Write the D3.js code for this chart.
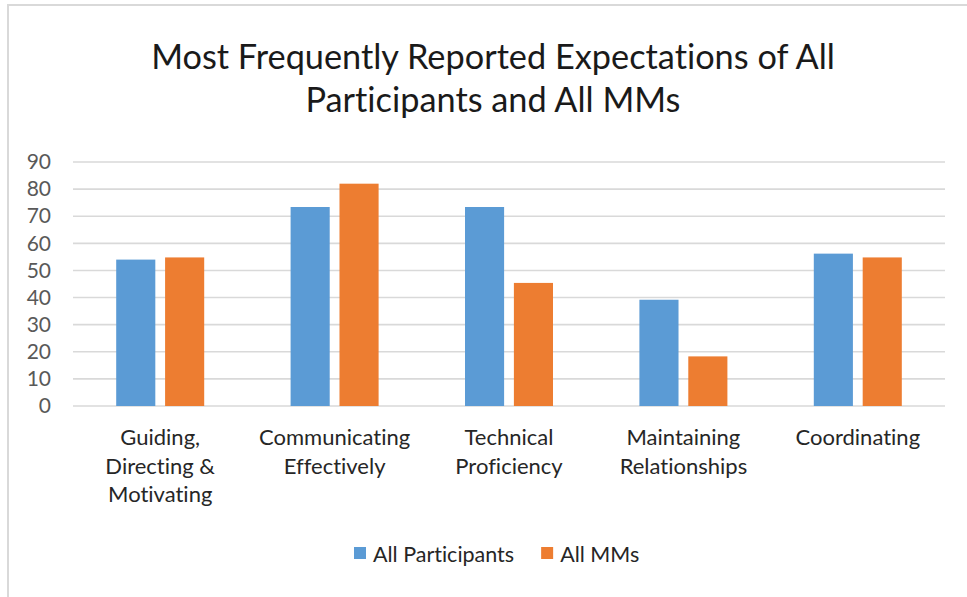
<!DOCTYPE html>
<html>
<head>
<meta charset="utf-8">
<script src="https://cdn.jsdelivr.net/npm/d3@7"></script>
<style>
  html, body { margin: 0; padding: 0; background: #fff; }
  svg { display: block; font-family: Lato, "Open Sans", sans-serif; font-variant-ligatures: none; font-feature-settings: "liga" 0, "clig" 0; }
</style>
</head>
<body>
<svg id="chart" width="967" height="597"></svg>
<script>
// ---- data ----
const categories = [
  "Guiding, Directing & Motivating",
  "Communicating Effectively",
  "Technical Proficiency",
  "Maintaining Relationships",
  "Coordinating"
];
const seriesNames = ["All Participants", "All MMs"];
const allParticipants = [54.0, 73.4, 73.4, 39.2, 56.2];
const allMMs = [54.8, 82.0, 45.4, 18.3, 54.8];
const yTicks = [0, 10, 20, 30, 40, 50, 60, 70, 80, 90];
const titleLines = ["Most Frequently Reported Expectations of All", "Participants and All MMs"];
const colors = ["#5B9BD5", "#ED7D31"];

const W = 967, H = 597;
const m = { left: 73, right: 22, top: 162, bottom: 191 };
const svg = d3.select("#chart");

// chart frame (top and left edges visible)
svg.append("line").attr("x1", 8).attr("x2", W).attr("y1", 5).attr("y2", 5)
  .attr("stroke", "#d9d9d9").attr("stroke-width", 2);
svg.append("line").attr("x1", 8).attr("x2", 8).attr("y1", 4).attr("y2", H)
  .attr("stroke", "#d9d9d9").attr("stroke-width", 2);

// title
const title = svg.append("text").attr("text-anchor", "middle")
  .attr("font-size", 34.3).attr("fill", "#1a1a1a");
titleLines.forEach((t, i) => {
  title.append("tspan").attr("x", 493).attr("y", 69 + i * 43).text(t);
});

const x0 = d3.scaleBand().domain(categories).range([m.left, W - m.right]).padding(0);
const y = d3.scaleLinear().domain([0, 90]).range([H - m.bottom, m.top]);

// gridlines
svg.append("g").selectAll("line").data(yTicks).join("line")
  .attr("x1", m.left).attr("x2", W - m.right)
  .attr("y1", d => y(d)).attr("y2", d => y(d))
  .attr("stroke", "#d9d9d9").attr("stroke-width", 1.6);

// y axis labels
const yAxis = d3.axisLeft(y).tickValues(yTicks).tickSize(0).tickPadding(22);
const gy = svg.append("g").attr("transform", `translate(${m.left},0)`).call(yAxis);
gy.select(".domain").remove();
gy.selectAll("text").attr("font-size", 21).attr("fill", "#595959")
  .attr("font-family", "Lato, 'Open Sans', sans-serif");

// bars
const groupW = 88;
const rows = categories.map((c, i) => ({ cat: c, vals: [allParticipants[i], allMMs[i]] }));
const g = svg.append("g");
rows.forEach(r => {
  const cx = x0(r.cat) + x0.bandwidth() / 2;
  const x1 = d3.scaleBand().domain([0, 1]).range([cx - groupW / 2, cx + groupW / 2]).paddingInner(0.2);
  g.selectAll(null).data(r.vals).join("rect")
    .attr("x", (d, j) => x1(j))
    .attr("width", x1.bandwidth())
    .attr("y", d => y(d))
    .attr("height", d => y(0) - y(d))
    .attr("fill", (d, j) => colors[j]);
});

// category labels (wrapped)
const xAxis = d3.axisBottom(x0).tickSize(0).tickPadding(0);
const gx = svg.append("g").attr("transform", `translate(0,${y(0)})`).call(xAxis);
gx.select(".domain").remove();
gx.selectAll("text").attr("font-size", 22).attr("fill", "#262626")
  .attr("font-family", "Lato, 'Open Sans', sans-serif")
  .attr("dy", null).attr("y", 0)
  .each(function() {
    const t = d3.select(this);
    const words = t.text().split(/\s+/);
    t.text(null);
    const maxW = x0.bandwidth() - 14;
    let lines = [], line = [];
    let tsp = t.append("tspan").attr("x", 0);
    words.forEach(w => {
      line.push(w);
      tsp.text(line.join(" "));
      if (tsp.node().getComputedTextLength() > maxW && line.length > 1) {
        line.pop();
        lines.push(line.join(" "));
        line = [w];
        tsp.text(w);
      }
    });
    lines.push(line.join(" "));
    t.text(null);
    lines.forEach((l, i) => {
      t.append("tspan").attr("x", 0).attr("y", 39 + i * 28.7).text(l);
    });
  });

// legend
const legend = svg.append("g").attr("font-size", 21.5).attr("fill", "#262626");
let lx = 354;
seriesNames.forEach((s, i) => {
  legend.append("rect").attr("x", lx).attr("y", 547).attr("width", 12).attr("height", 12)
    .attr("fill", colors[i]);
  const t = legend.append("text").attr("x", lx + 19).attr("y", 562).text(s);
  lx += 19 + t.node().getComputedTextLength() + 27;
});
</script>
</body>
</html>
